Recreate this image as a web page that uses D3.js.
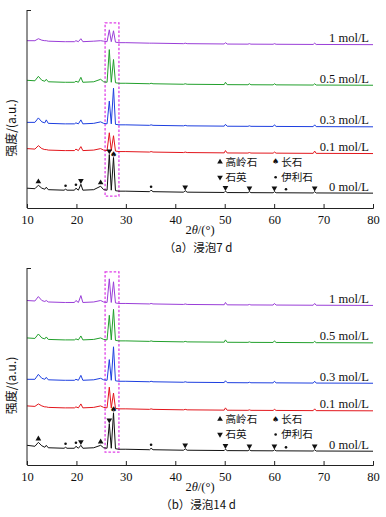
<!DOCTYPE html>
<html><head><meta charset="utf-8">
<script src="https://cdn.jsdelivr.net/npm/d3@7"></script>
<style>body{margin:0;background:#fff}svg{display:block}</style>
</head><body>
<svg id="c" width="386" height="517"></svg>
<script>
// 2θ knot positions (degrees)
const twoTheta = [10, 11.6, 12.3, 13.0, 13.6, 13.9, 14.3, 17.5, 17.8, 18.1, 19.6, 19.9, 20.4, 20.9, 21.3, 23.5, 24.9, 25.5, 26.2, 26.65, 27.05, 27.5, 27.9, 28.6, 30, 34.8, 35.1, 35.5, 41.7, 42.0, 42.4, 49.9, 50.15, 50.5, 54.7, 55.0, 55.3, 59.8, 60.05, 60.4, 67.9, 68.2, 68.5, 80];
const concLabels = ["0 mol/L", "0.1 mol/L", "0.3 mol/L", "0.5 mol/L", "1 mol/L"];
const seriesColors = ["#111111", "#e3161c", "#1d3fe0", "#22a02c", "#9a3ed8"];
const xTicks = [10, 20, 30, 40, 50, 60, 70, 80];
// stacking offsets (a.u.)
const offsetsA = [15, 55, 82, 124, 165];
const offsetsB = [14, 55, 83, 124, 162];
// intensities above offset (a.u.) — panel (a) 7 d
const a0   = [5,4.5,8,5,4,6,3.5,3,4,3,3,5,3,9,3,3.5,7,3.5,3,39,3,36,2.5,2,2,1.5,3,1.5,1,2.5,1,0.7,2,0.6,0.5,1.5,0.5,0.4,1.5,0.4,0.2,1.5,0.2,0];
const a01  = [5,4.5,8,5,4,4,3.5,3,3,3,3,4.5,3,7,3,3.5,5,3.5,3,21,3,18,2.5,2,2,1.5,2,1.5,1,1.5,1,0.7,3,0.6,0.5,1,0.5,0.4,1.5,0.4,0.2,2.5,0.2,0];
const a03  = [4.5,4.5,9,5,4,7,3.5,3,3,3,3,4,3,7,3,3.5,5,3.5,3,26,3,39,2.5,2,2,1.5,2,1.5,1,1.5,1,0.7,2.5,0.6,0.5,1,0.5,0.4,2,0.4,0.2,2,0.2,0];
const a05  = [5,4.5,9,5,4,6,3.5,3,3,3,3,4,3,8,3,3.5,6,3.5,3,36,3,26,2.5,2,2,1.5,2,1.5,1,1.5,1,0.7,3,0.6,0.5,1.5,0.5,0.4,1.5,0.4,0.2,1.5,0.2,0];
const a1   = [4,4,6,4.5,4,4,3.5,3,3,3,3,4,3,6,3,3.5,4,3.5,3,15,3,14,2.5,2,2,1.5,1.5,1.5,1,1.5,1,0.7,2,0.6,0.5,1,0.5,0.4,1,0.4,0.2,1.5,0.2,0];
// panel (b) 14 d
const b0   = [6,5,9,5.5,4,6,3.5,3,4,3,3,5,3,6,3,3.5,6,3.5,3,28,3,39,2.5,2,2,1.5,3,1.5,1,2.5,1,0.7,2,0.6,0.5,1.5,0.5,0.4,1.5,0.4,0.2,1.5,0.2,0];
const b01  = [5,4.5,7,5,4,4,3.5,3,3,3,3,4,3,7,3,3.5,5,3.5,3,24,3,18,2.5,2,2,1.5,2,1.5,1,1.5,1,0.7,3,0.6,0.5,1,0.5,0.4,1.5,0.4,0.2,2,0.2,0];
const b03  = [4,4,9,5,4,6,3.5,3,3,3,3,4,3,8,3,3.5,5,3.5,3,24,3,37,2.5,2,2,1.5,2,1.5,1,1.5,1,0.7,2.5,0.6,0.5,1,0.5,0.4,2,0.4,0.2,2,0.2,0];
const b05  = [5,4.5,9,5,4,6,3.5,3,3,3,3,4,3,7,3,3.5,5,3.5,3,28,3,34,2.5,2,2,1.5,2,1.5,1,1.5,1,0.7,3,0.6,0.5,1,0.5,0.4,2,0.4,0.2,1.5,0.2,0];
const b1   = [5,4.5,9,5,4,5,3.5,3,3,3,3,5,3,10,3,3.5,5,3.5,3,27,3,24,2.5,2,2,1.5,2,1.5,1,1.5,1,0.7,3,0.6,0.5,1,0.5,0.4,2,0.4,0.2,2,0.2,0];
// phase markers on the 0 mol/L pattern: k kaolinite, q quartz, f feldspar, i illite
const markerPhase = ["k","i","i","q","k","q","f","i","q","q","q","q","i","q"];
const markerPos   = [12.3,17.8,19.9,20.9,24.9,26.65,27.5,35.1,42.0,50.15,55.0,60.05,62.4,68.2];
const legendNames = ["高岭石", "长石", "石英", "伊利石"];
const legendPhase = ["k", "f", "q", "i"];

const panels = [
  {top: 10, bottom: 208, series: [a0, a01, a03, a05, a1], offsets: offsetsA, box: [25.8, 28.6, 12, 187], caption: "（a）浸泡7 d"},
  {top: 268, bottom: 465, series: [b0, b01, b03, b05, b1], offsets: offsetsB, box: [25.8, 28.6, 13, 196], caption: "（b）浸泡14 d"}
];

const svg = d3.select("#c");
const x = d3.scaleLinear().domain([10, 80]).range([27, 373]);
const serif = "'Liberation Serif','Times New Roman',serif";
const cjk = "'Noto Sans CJK SC','Noto Sans CJK JP',sans-serif";

function drawMarker(g, phase, cx, cy) {
  if (phase === "k") {
    g.append("path").attr("d", d3.symbol(d3.symbolTriangle, 14)()).attr("transform", `translate(${cx},${cy})`).attr("fill", "#111");
  } else if (phase === "q") {
    g.append("path").attr("d", d3.symbol(d3.symbolTriangle, 14)()).attr("transform", `translate(${cx},${cy}) rotate(180)`).attr("fill", "#111");
  } else if (phase === "f") {
    g.append("text").attr("x", cx).attr("y", cy + 2.5).attr("text-anchor", "middle").attr("font-size", 8).attr("font-family", "'DejaVu Sans'").attr("fill", "#111").text("♠");
  } else {
    g.append("circle").attr("cx", cx).attr("cy", cy).attr("r", 1.3).attr("fill", "#111");
  }
}

panels.forEach(p => {
  const y = d3.scaleLinear().domain([0, 200]).range([p.bottom, p.top]);
  const g = svg.append("g");

  // dashed highlight box
  g.append("rect")
    .attr("x", x(p.box[0])).attr("y", y(p.box[3]))
    .attr("width", x(p.box[1]) - x(p.box[0])).attr("height", y(p.box[2]) - y(p.box[3]))
    .attr("fill", "none").attr("stroke", "#e040e8").attr("stroke-width", 1.3).attr("stroke-dasharray", "2.5,1.8");

  // curves
  p.series.forEach((vals, i) => {
    const line = d3.line().x((d, j) => x(twoTheta[j])).y(d => y(p.offsets[i] + d));
    g.append("path").datum(vals).attr("d", line).attr("fill", "none")
      .attr("stroke", seriesColors[i]).attr("stroke-width", 1).attr("stroke-linejoin", "round");
    g.append("text").attr("x", x(80) - 4).attr("y", y(p.offsets[i]) - 2.5)
      .attr("text-anchor", "end").attr("font-family", serif).attr("font-size", 12.5).attr("fill", "#111")
      .text(concLabels[i]);
  });

  // markers on the 0 mol/L curve
  const base = p.series[0];
  markerPos.forEach((m, k) => {
    const j = d3.bisectLeft(twoTheta, m);
    let v;
    if (Math.abs(twoTheta[j] - m) < 1e-6) v = base[j];
    else { const t = (m - twoTheta[j - 1]) / (twoTheta[j] - twoTheta[j - 1]); v = base[j - 1] + t * (base[j] - base[j - 1]); }
    drawMarker(g, markerPhase[k], x(m), y(p.offsets[0] + v) - 3.5);
  });

  // legend
  const lx = [x(49.05), x(60.3)];
  const ly = [y(46.5), y(31)];
  legendNames.forEach((name, k) => {
    const col = k % 2, row = Math.floor(k / 2);
    drawMarker(g, legendPhase[k], lx[col], ly[row]);
    g.append("text").attr("x", lx[col] + 5.5).attr("y", ly[row] + 4)
      .attr("font-family", cjk).attr("font-size", 10.6).attr("fill", "#111").text(name);
  });

  // axes
  const ax = d3.axisBottom(x).tickValues(xTicks).tickSize(-4).tickPadding(7).tickFormat(d3.format("d"));
  const axg = g.append("g").attr("transform", `translate(0,${p.bottom})`).call(ax);
  axg.attr("font-family", serif).attr("font-size", 12.5);
  axg.select(".domain").attr("stroke", "#222");
  axg.selectAll(".tick line").attr("stroke", "#222");
  axg.selectAll("text").attr("fill", "#111");
  const ay = d3.axisLeft(y).tickValues([200]).tickSize(-4).tickFormat("");
  const ayg = g.append("g").attr("transform", `translate(${x(10)},0)`).call(ay);
  ayg.select(".domain").attr("stroke", "#222").attr("d", `M0,${p.top}V${p.bottom}`);
  ayg.selectAll(".tick line").attr("stroke", "#222");

  // axis titles
  const xt = g.append("text").attr("x", 200).attr("y", p.bottom + 26).attr("text-anchor", "middle")
    .attr("font-family", serif).attr("font-size", 12.5).attr("fill", "#111");
  xt.append("tspan").text("2");
  xt.append("tspan").attr("font-style", "italic").text("θ");
  xt.append("tspan").text("/(°)");
  const yc = (p.top + p.bottom) / 2 + 19;
  g.append("text").attr("transform", `translate(16,${yc}) rotate(-90)`).attr("text-anchor", "middle")
    .attr("font-family", cjk).attr("font-size", 12).attr("fill", "#111").text("强度/(a.u.)");
  g.append("text").attr("x", 198).attr("y", p.bottom + 44).attr("text-anchor", "middle")
    .attr("font-family", cjk).attr("font-size", 11.5).attr("fill", "#111").text(p.caption);
});
</script>
</body></html>
